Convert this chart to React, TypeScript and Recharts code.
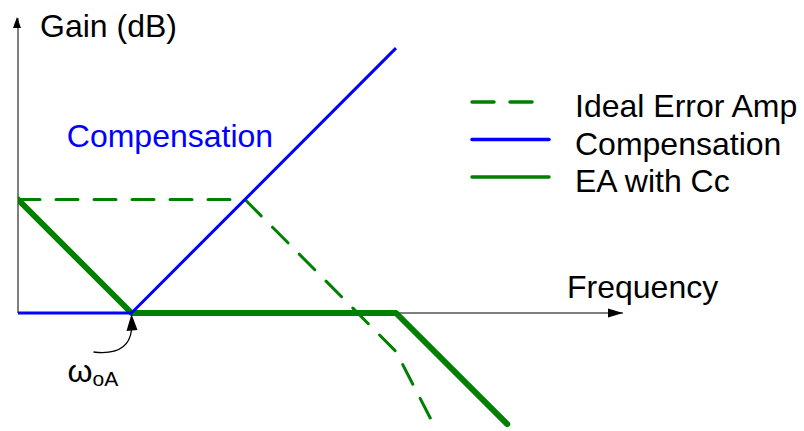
import { LineChart, Line, XAxis, YAxis, ReferenceLine, ReferenceDot, Legend } from 'recharts'

// frequency in decades from the origin, gain in dB (one decade ~ 20 dB)
const idealFreq = [0, 2, 3.33, 3.66]
const idealGain = [20, 20, -6.8, -19.6]
const compFreq = [0, 1, 3.33]
const compGain = [0, 0, 46.7]
const eaFreq = [0, 1, 3.33, 4.31]
const eaGain = [20, 0, 0, -19.6]

const X_MAX = 5.33
const Y_MIN = -20.8
const Y_MAX = 52
const CORNER_FREQ = 1 // ω_oA
const COMP_LABEL_AT = { x: 0.43, y: 29.3 }

const FONT = '"Liberation Sans", Arial, sans-serif'
const FS = 32
const GREEN = '#008000'
const BLUE = '#0000ff'
const AXIS = '#555'

const toPoints = (xs: number[], ys: number[]) => xs.map((x, i) => ({ x, y: ys[i] }))

const idealData = toPoints(idealFreq, idealGain)
const compData = toPoints(compFreq, compGain)
const eaData = toPoints(eaFreq, eaGain)

const legendItems = [
  { name: 'Ideal Error Amp', color: GREEN, dash: '22 16', len: 61 },
  { name: 'Compensation', color: BLUE, dash: undefined, len: 77 },
  { name: 'EA with Cc', color: GREEN, dash: undefined, len: 77 },
]

function LegendBox() {
  return (
    <svg width={344} height={130} style={{ display: 'block' }}>
      {legendItems.map((it, i) => (
        <g key={it.name}>
          <line
            x1={12}
            x2={12 + it.len}
            y1={22 + i * 37.5}
            y2={22 + i * 37.5}
            stroke={it.color}
            strokeWidth={3.5}
            strokeDasharray={it.dash}
            strokeLinecap="round"
          />
          <text x={115} y={37 + i * 37.5} fontSize={FS} fontFamily={FONT} fill="#000">
            {it.name}
          </text>
        </g>
      ))}
    </svg>
  )
}

export default function App() {
  return (
    <div style={{ position: 'fixed', left: 0, top: 0, background: '#fff' }}>
      <LineChart width={804} height={431} margin={{ top: 18, right: 181, bottom: 0, left: 18 }}>
        <XAxis type="number" dataKey="x" domain={[0, X_MAX]} allowDataOverflow hide />
        <YAxis type="number" dataKey="y" domain={[Y_MIN, Y_MAX]} allowDataOverflow hide />

        {/* axes with arrows */}
        <ReferenceLine
          segment={[{ x: 0, y: 0 }, { x: X_MAX, y: 0 }]}
          stroke={AXIS}
          strokeWidth={1.5}
          ifOverflow="visible"
        />
        <ReferenceLine
          segment={[{ x: 0, y: 0 }, { x: 0, y: Y_MAX }]}
          stroke={AXIS}
          strokeWidth={1.5}
          ifOverflow="visible"
        />
        <ReferenceDot
          x={X_MAX}
          y={0}
          ifOverflow="visible"
          shape={(p: any) => (
            <g>
              <path d={`M${p.cx},${p.cy} L${p.cx - 15},${p.cy - 4.5} L${p.cx - 15},${p.cy + 4.5} Z`} fill="#000" />
              <text x={p.cx - 56} y={p.cy - 15} fontSize={FS} fontFamily={FONT} fill="#000">
                Frequency
              </text>
            </g>
          )}
        />
        <ReferenceDot
          x={0}
          y={Y_MAX}
          ifOverflow="visible"
          shape={(p: any) => (
            <g>
              <path d={`M${p.cx - 1},${p.cy - 1} L${p.cx - 5},${p.cy + 10} L${p.cx + 3},${p.cy + 10} Z`} fill="#000" />
              <text x={p.cx + 22} y={p.cy + 19} fontSize={FS} fontFamily={FONT} fill="#000">
                Gain (dB)
              </text>
            </g>
          )}
        />

        <Line
          data={eaData}
          dataKey="y"
          type="linear"
          stroke={GREEN}
          strokeWidth={6}
          strokeLinejoin="round"
          strokeLinecap="round"
          dot={false}
          isAnimationActive={false}
          name="EA with Cc"
        />
        <Line
          data={idealData}
          dataKey="y"
          type="linear"
          stroke={GREEN}
          strokeWidth={3}
          strokeDasharray="22 16"
          strokeLinejoin="round"
          strokeLinecap="round"
          dot={false}
          isAnimationActive={false}
          name="Ideal Error Amp"
        />
        <Line
          data={compData}
          dataKey="y"
          type="linear"
          stroke={BLUE}
          strokeWidth={3}
          strokeLinejoin="round"
          dot={false}
          isAnimationActive={false}
          name="Compensation"
        />

        {/* ω_oA marker */}
        <ReferenceDot
          x={CORNER_FREQ}
          y={0}
          ifOverflow="visible"
          shape={(p: any) => (
            <g>
              <path
                d={`M${p.cx - 38},${p.cy + 39} Q${p.cx - 3},${p.cy + 43} ${p.cx},${p.cy + 17}`}
                fill="none"
                stroke="#000"
                strokeWidth={1.3}
              />
              <path d={`M${p.cx},${p.cy + 1} L${p.cx - 5},${p.cy + 18} L${p.cx + 6},${p.cy + 17} Z`} fill="#000" />
              <text x={p.cx - 64} y={p.cy + 69} fontFamily={FONT} fill="#000">
                <tspan fontSize={32}>ω</tspan>
                <tspan fontSize={21} dy={4}>oA</tspan>
              </text>
            </g>
          )}
        />
        <ReferenceDot
          x={COMP_LABEL_AT.x}
          y={COMP_LABEL_AT.y}
          ifOverflow="visible"
          shape={(p: any) => (
            <text x={p.cx} y={p.cy} fontSize={FS} fontFamily={FONT} fill={BLUE}>
              Compensation
            </text>
          )}
        />

        <Legend
          layout="vertical"
          align="center"
          verticalAlign="middle"
          wrapperStyle={{ left: 460, top: 80, width: 344 }}
          content={() => <LegendBox />}
        />
      </LineChart>
    </div>
  )
}
